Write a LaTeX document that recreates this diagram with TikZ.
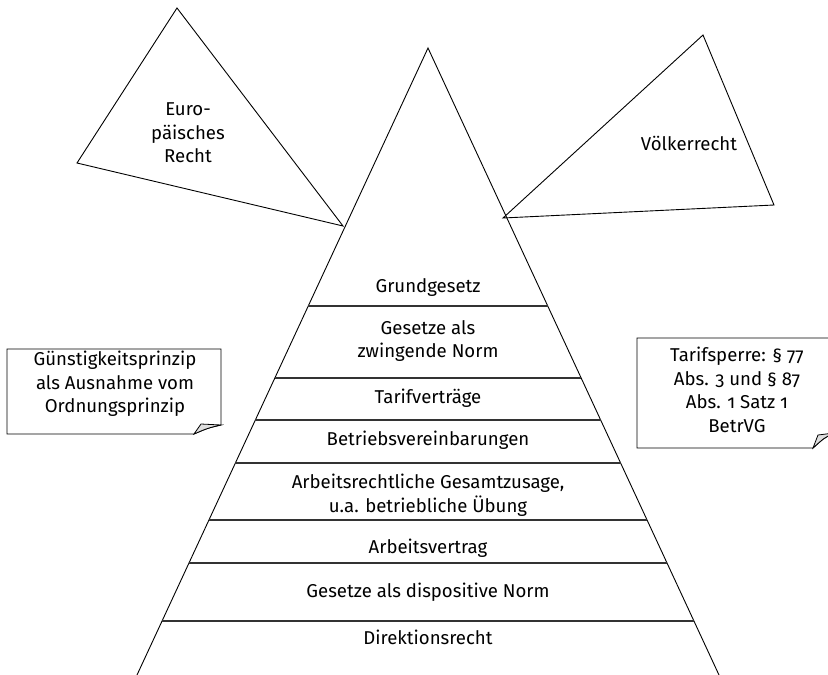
\documentclass[tikz,border=0pt]{standalone}
\usepackage{fontspec}
\setmainfont{Fira Sans}[Numbers=OldStyle]
\usetikzlibrary{calc, positioning}

\tikzset{
  lvltext/.style={font=\fontsize{18.6}{23.5}\selectfont, align=center, inner sep=0pt},
  layerline/.style={line width=1.1pt, black!80},
  edgeline/.style={line width=0.9pt, black},
  notebox/.style={line width=0.9pt, black},
  curl/.style={line width=0.8pt, black, fill=gray!25}
}

\begin{document}
\begin{tikzpicture}[x=1pt, y=-1pt]
\useasboundingbox (0,0) rectangle (828,675);

\coordinate (apex) at (428,48);
\coordinate (bl) at (137,675);
\coordinate (br) at (719,675);
\draw[edgeline] (bl) -- (apex) -- (br);

\foreach \yy in {306,378,420,463,520,563,621}
  \draw[layerline] ($(apex)!{(\yy-48)/627}!(bl)$) -- ($(apex)!{(\yy-48)/627}!(br)$);

\node[lvltext] (grund) at (428,288) {Grundgesetz};
\node[lvltext] (zwing) at (428,341) {Gesetze als\\zwingende Norm};
\node[lvltext] (tarif) at (428,398) {Tarifverträge};
\node[lvltext] (betrieb) at (428,440) {Betriebsvereinbarungen};
\node[lvltext] (gesamt) at (428,495) {Arbeitsrechtliche Gesamtzusage,\\u.a. betriebliche Übung};
\node[lvltext] (vertrag) at (428,548) {Arbeitsvertrag};
\node[lvltext] (dispo) at (428,592) {Gesetze als dispositive Norm};
\node[lvltext] (direkt) at (428,637) {Direktionsrecht};

\coordinate (eutop) at (177,8);
\coordinate (euleft) at (77,163);
\coordinate (euright) at (343,226);
\draw[edgeline] (eutop) -- (euleft) -- (euright) -- cycle;
\node[lvltext] (europa) at (188,133) {Euro-\\päisches\\Recht};

\coordinate (vrtop) at (703,35);
\coordinate (vrleft) at (503,218);
\coordinate (vrright) at (774,205);
\draw[edgeline] (vrtop) -- (vrleft) -- (vrright) -- cycle;
\node[lvltext] (voelker) at (689,143) {Völkerrecht};

\draw[notebox] (7,349) -- (221,349) -- (221,425) .. controls (208,428) .. (194,434) -- (7,434) -- cycle;
\draw[curl] (221,425) -- (201,424) -- (194,434) .. controls (208,428) .. (221,425) -- cycle;
\node[lvltext] (guenstig) at (115,384) {Günstigkeitsprinzip\\als Ausnahme vom\\Ordnungsprinzip};

\draw[notebox] (637,338) -- (834,338) -- (834,433) .. controls (824,438) .. (813,448) -- (637,448) -- cycle;
\draw[curl] (834,433) -- (818,435) -- (813,448) .. controls (824,438) .. (834,433) -- cycle;
\node[lvltext] (sperre) at (737,390) {Tarifsperre: § 77\\Abs. 3 und § 87\\Abs. 1 Satz 1\\BetrVG};
\end{tikzpicture}
\end{document}
